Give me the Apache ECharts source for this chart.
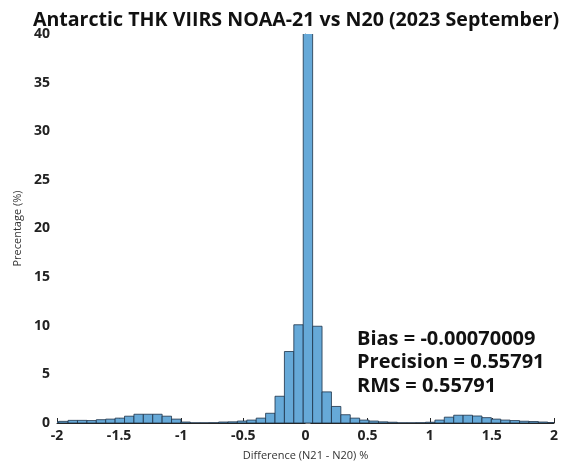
<!DOCTYPE html>
<html>
<head>
<meta charset="utf-8">
<script src="https://cdn.jsdelivr.net/npm/echarts@6/dist/echarts.min.js"></script>
<style>
  html, body { margin: 0; padding: 0; background: #fff; }
  #main { width: 583px; height: 466px; }
</style>
</head>
<body>
<div id="main"></div>
<script>
// histogram bins: first left edge and width
var binStart = -2.0622;
var binWidth = 0.0757;
// percentage in each bin, left to right
var percent = [
  0.12, 0.17, 0.27, 0.27, 0.25, 0.34, 0.4, 0.5, 0.7, 0.9,
  0.9, 0.9, 0.7, 0.4, 0.1, 0.02, 0.02, 0.03, 0.1, 0.12,
  0.2, 0.3, 0.5, 1.0, 2.75, 7.35, 10.1, 46, 9.95, 3.2,
  1.7, 0.85, 0.5, 0.3, 0.2, 0.12, 0.08, 0.02, 0.02, 0.03,
  0.08, 0.3, 0.6, 0.8, 0.8, 0.72, 0.55, 0.4, 0.3, 0.25,
  0.18, 0.15, 0.1, 0.05
];
var xTicks = [-2, -1.5, -1, -0.5, 0, 0.5, 1, 1.5, 2];
var yTicks = [0, 5, 10, 15, 20, 25, 30, 35, 40];
var statLines = ['Bias = -0.00070009', 'Precision = 0.55791', 'RMS = 0.55791'];

var bins = percent.map(function (p, i) {
  var x0 = binStart + i * binWidth;
  return [x0, x0 + binWidth, p];
});

var myChart = echarts.init(document.getElementById('main'));

var option = {
  animation: false,
  title: {
    text: 'Antarctic THK VIIRS NOAA-21 vs N20 (2023 September)',
    left: 291, top: 5, textAlign: 'center',
    textStyle: { fontFamily: 'Open Sans', fontWeight: 'bold', fontSize: 19.6, color: '#111' }
  },
  grid: { left: 57, right: 29, top: 34, bottom: 37 },
  xAxis: {
    type: 'value', min: xTicks[0], max: xTicks[xTicks.length - 1], interval: 0.5,
    name: 'Difference (N21 - N20) %', nameLocation: 'middle', nameGap: 27,
    nameTextStyle: { fontFamily: 'Open Sans', fontSize: 11, color: '#333' },
    axisLine: { lineStyle: { color: '#262626', width: 1 } },
    axisTick: { inside: true, length: 5, lineStyle: { color: '#262626' } },
    axisLabel: { fontFamily: 'Open Sans', fontWeight: 'bold', fontSize: 14, color: '#222', margin: 6 },
    splitLine: { show: false }
  },
  yAxis: {
    type: 'value', min: yTicks[0], max: yTicks[yTicks.length - 1], interval: 5,
    name: 'Precentage (%)', nameLocation: 'middle', nameGap: 29, nameRotate: 90,
    nameTextStyle: { fontFamily: 'Open Sans', fontSize: 11, color: '#333' },
    axisLine: { show: true, lineStyle: { color: '#777', width: 1 } },
    axisTick: { show: true, inside: true, length: 5, lineStyle: { color: '#777' } },
    axisLabel: { fontFamily: 'Open Sans', fontWeight: 'bold', fontSize: 14, color: '#222', margin: 7 },
    splitLine: { show: false }
  },
  series: [{
    type: 'custom',
    clip: true,
    data: bins,
    renderItem: function (params, api) {
      var p0 = api.coord([api.value(0), api.value(2)]);
      var p1 = api.coord([api.value(1), 0]);
      return {
        type: 'rect',
        shape: { x: p0[0], y: p0[1], width: p1[0] - p0[0], height: p1[1] - p0[1] },
        style: { fill: '#66a9d8', stroke: '#1c3147', lineWidth: 0.8 }
      };
    }
  }],
  graphic: statLines.map(function (t, i) {
    return {
      type: 'text', left: 357, top: 329 + i * 23.5,
      style: { text: t, fontFamily: 'Open Sans', fontWeight: 'bold', fontSize: 20, fill: '#111' }
    };
  })
};

myChart.setOption(option);
</script>
</body>
</html>
